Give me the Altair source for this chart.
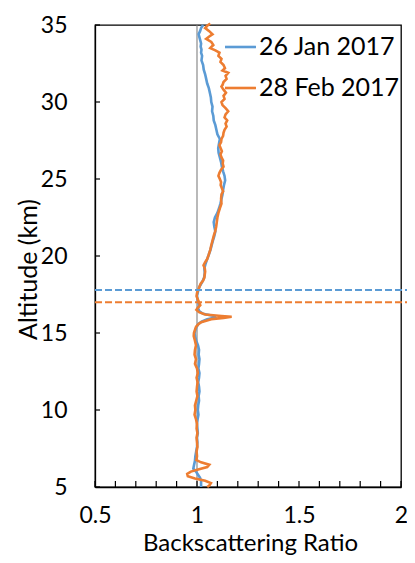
import altair as alt
import pandas as pd

# ---- data ----
series_names = ["26 Jan 2017", "28 Feb 2017"]
series_colors = ["#5B9BD5", "#ED7D31"]

jan_alt = [35.0, 34.8, 34.6, 34.4, 34.2, 34.0, 33.8, 33.6, 33.4, 33.2, 33.0, 32.7, 32.4, 32.1,
           31.8, 31.5, 31.2, 30.9, 30.6, 30.3, 30.0, 29.7, 29.4, 29.1, 28.8, 28.5, 28.2, 27.9,
           27.6, 27.3, 27.0, 26.7, 26.4, 26.1, 25.8, 25.5, 25.2, 24.9, 24.6, 24.3, 24.0, 23.7,
           23.4, 23.1, 22.8, 22.5, 22.2, 21.9, 21.6, 21.3, 21.0, 20.7, 20.4, 20.1, 19.8, 19.5,
           19.2, 18.9, 18.6, 18.3, 18.0, 17.7, 17.4, 17.1, 16.8, 16.6, 16.4, 16.25, 16.1, 16.0,
           15.9, 15.75, 15.6, 15.4, 15.2, 15.0, 14.8, 14.5, 14.2, 13.9, 13.6, 13.3, 13.0, 12.7,
           12.4, 12.1, 11.8, 11.5, 11.2, 10.9, 10.6, 10.3, 10.0, 9.7, 9.4, 9.1, 8.8, 8.5, 8.2,
           7.9, 7.6, 7.3, 7.0, 6.7, 6.4, 6.2, 6.0, 5.8, 5.6, 5.4, 5.2, 5.0]
jan_ratio = [1.03, 1.02, 1.015, 1.008, 1.012, 1.016, 1.02, 1.018, 1.022, 1.02, 1.025, 1.022, 1.03, 1.033,
             1.04, 1.045, 1.05, 1.058, 1.063, 1.068, 1.07, 1.076, 1.074, 1.08, 1.082, 1.09, 1.095, 1.10,
             1.112, 1.108, 1.104, 1.106, 1.112, 1.118, 1.122, 1.128, 1.135, 1.138, 1.132, 1.128, 1.125, 1.12,
             1.115, 1.108, 1.10, 1.088, 1.082, 1.085, 1.09, 1.085, 1.078, 1.072, 1.066, 1.058, 1.05, 1.042,
             1.036, 1.038, 1.035, 1.025, 1.012, 1.005, 1.0, 1.004, 1.01, 1.005, 1.012, 1.03, 1.085, 1.09,
             1.05, 1.025, 1.008, 0.998, 0.992, 0.988, 0.99, 0.996, 1.005, 1.01, 1.008, 1.012, 1.01, 1.007,
             1.012, 1.01, 1.006, 1.01, 1.012, 1.008, 1.01, 1.006, 1.004, 1.007, 1.003, 1.0, 1.002, 1.004, 1.0,
             1.002, 1.0, 0.996, 0.992, 0.99, 0.985, 0.982, 0.995, 1.005, 1.015, 1.02, 1.02, 1.02]

feb_alt = [35.1, 34.95, 34.8, 34.6, 34.4, 34.25, 34.1, 33.9, 33.7, 33.5, 33.35, 33.2, 33.0, 32.8,
           32.6, 32.4, 32.2, 32.05, 31.9, 31.7, 31.5, 31.3, 31.1, 31.0, 30.8, 30.6, 30.4, 30.2,
           30.0, 29.8, 29.6, 29.4, 29.2, 29.0, 28.8, 28.6, 28.4, 28.2, 28.0, 27.8, 27.6, 27.4,
           27.2, 27.0, 26.8, 26.6, 26.4, 26.2, 26.0, 25.8, 25.6, 25.4, 25.2, 25.0, 24.8, 24.6,
           24.4, 24.2, 24.0, 23.7, 23.4, 23.1, 22.8, 22.5, 22.2, 21.9, 21.6, 21.3, 21.0, 20.7,
           20.4, 20.1, 19.8, 19.6, 19.4, 19.2, 19.0, 18.8, 18.6, 18.4, 18.2, 18.0, 17.8, 17.6,
           17.4, 17.2, 17.0, 16.8, 16.65, 16.5, 16.35, 16.2, 16.1, 16.05, 15.98, 15.9, 15.8, 15.7,
           15.55, 15.4, 15.2, 15.0, 14.8, 14.5, 14.2, 13.9, 13.6, 13.3, 13.0, 12.7, 12.4, 12.1,
           11.8, 11.5, 11.2, 10.9, 10.6, 10.3, 10.0, 9.7, 9.4, 9.1, 8.8, 8.5, 8.2, 7.9, 7.6, 7.3,
           7.0, 6.75, 6.6, 6.45, 6.3, 6.15, 6.0, 5.85, 5.7, 5.55, 5.4, 5.25, 5.1, 5.0]
feb_ratio = [1.065, 1.05, 1.04, 1.06, 1.076, 1.06, 1.045, 1.07, 1.08, 1.065, 1.09, 1.11, 1.105, 1.12,
             1.115, 1.13, 1.137, 1.125, 1.153, 1.14, 1.145, 1.13, 1.125, 1.12, 1.13, 1.142, 1.13, 1.135,
             1.12, 1.125, 1.14, 1.153, 1.14, 1.135, 1.148, 1.14, 1.145, 1.135, 1.13, 1.128, 1.12, 1.118,
             1.11, 1.116, 1.122, 1.115, 1.12, 1.128, 1.126, 1.13, 1.118, 1.11, 1.105, 1.112, 1.118, 1.116,
             1.122, 1.128, 1.12, 1.118, 1.12, 1.112, 1.105, 1.10, 1.097, 1.094, 1.089, 1.082, 1.076, 1.07,
             1.065, 1.058, 1.05, 1.04, 1.032, 1.038, 1.04, 1.038, 1.036, 1.03, 1.018, 1.012, 1.006, 1.0,
             0.998, 1.003, 1.01, 1.016, 1.005, 0.997, 1.01, 1.04, 1.12, 1.17, 1.13, 1.07, 1.045, 1.02,
             1.005, 0.995, 0.99, 0.985, 0.984, 0.99, 0.995, 0.99, 0.988, 0.995, 0.99, 1.0, 1.004, 0.998,
             1.003, 1.0, 0.998, 1.002, 0.996, 0.99, 0.992, 0.988, 0.995, 1.0, 0.998, 1.002, 0.998, 1.0, 1.002, 0.998,
             1.0, 0.997, 1.02, 1.06, 1.05, 1.01, 0.97, 0.952, 0.955, 0.99, 1.04, 1.068, 1.06, 1.05]

tropopause_alt = [17.8, 17.0]
reference_ratio = [1.0]
x_tick_values = [0.5, 0.6, 0.7, 0.8, 0.9, 1.0, 1.1, 1.2, 1.3, 1.4, 1.5, 1.6, 1.7, 1.8, 1.9, 2.0]
x_label_values = [0.5, 1, 1.5, 2]
y_tick_values = [5, 10, 15, 20, 25, 30, 35]

# ---- tables ----
rows = []
for i, (a, r) in enumerate(zip(jan_alt, jan_ratio)):
    rows.append({"alt": a, "ratio": r, "series": series_names[0], "idx": i})
for i, (a, r) in enumerate(zip(feb_alt, feb_ratio)):
    rows.append({"alt": a, "ratio": r, "series": series_names[1], "idx": i})
profiles = pd.DataFrame(rows)

tropo = pd.DataFrame({"alt": tropopause_alt, "series": series_names})
ref = pd.DataFrame({"ratio": reference_ratio})
xticks = pd.DataFrame({"v": x_tick_values})
yticks = pd.DataFrame({"v": y_tick_values})

FONT = "Lato"
FS = 23
TFS = 24
W, H = 306, 462

x_scale = alt.Scale(domain=[0.5, 2], nice=False, zero=False)
y_scale = alt.Scale(domain=[5, 35], nice=False, zero=False)
color_scale = alt.Scale(domain=series_names, range=series_colors)

x_axis = alt.Axis(values=x_label_values, format="~g", ticks=False, tickSize=0, labelPadding=17,
                  labelFontSize=FS, labelFont=FONT, labelColor="black", labelFlush=False,
                  grid=False, domainColor="black", domainWidth=1.3,
                  title="Backscattering Ratio", titleFont=FONT, titleFontSize=TFS,
                  titleFontWeight="normal", titleColor="black", titleX=155, titleY=63,
                  titleBaseline="alphabetic")
y_axis = alt.Axis(values=y_tick_values, format="d", ticks=False, tickSize=0, labelPadding=28,
                  labelFontSize=FS, labelFont=FONT, labelColor="black", labelFlush=False,
                  grid=False, domainColor="black", domainWidth=1.3,
                  title="Altitude (km)", titleFont=FONT, titleFontSize=25,
                  titleFontWeight="normal", titleColor="black", titleAngle=270,
                  titleX=-67, titleY=244, titleBaseline="middle", titleAlign="center")

lines = alt.Chart(profiles).mark_line(strokeWidth=2.6).encode(
    x=alt.X("ratio:Q", scale=x_scale, axis=x_axis),
    y=alt.Y("alt:Q", scale=y_scale, axis=y_axis),
    color=alt.Color("series:N", scale=color_scale, legend=None),
    order=alt.Order("idx:Q"),
    detail="series:N",
)

ref_line = alt.Chart(ref).mark_rule(color="#808080", strokeWidth=1.1).encode(
    x=alt.X("ratio:Q", scale=x_scale),
    y=alt.value(0), y2=alt.value(H),
)

dashes = alt.Chart(tropo).mark_rule(strokeDash=[7, 3], strokeWidth=2).encode(
    y=alt.Y("alt:Q", scale=y_scale),
    x=alt.value(0), x2=alt.value(W + 6),
    color=alt.Color("series:N", scale=color_scale, legend=None),
)

xtick_marks = alt.Chart(xticks).mark_rule(color="black", strokeWidth=1.2).encode(
    x=alt.X("v:Q", scale=x_scale), y=alt.value(H), y2=alt.value(H - 6),
)
ytick_marks = alt.Chart(yticks).mark_rule(color="black", strokeWidth=1.2).encode(
    y=alt.Y("v:Q", scale=y_scale), x=alt.value(0), x2=alt.value(5),
)

legend_layers = []
for name, col, ypix in zip(series_names, series_colors, [22, 63]):
    one = pd.DataFrame({"series": [name]})
    legend_layers.append(
        alt.Chart(one).mark_rule(strokeWidth=2.6, color=col).encode(
            y=alt.value(ypix), x=alt.value(130), x2=alt.value(161))
    )
    legend_layers.append(
        alt.Chart(one).mark_text(align="left", baseline="middle", font=FONT,
                                 fontSize=25, color="black").encode(
            y=alt.value(ypix), x=alt.value(164), text="series:N")
    )

chart = alt.layer(
    ref_line, lines, dashes, xtick_marks, ytick_marks, *legend_layers
).properties(
    width=W, height=H,
    autosize=alt.AutoSizeParams(type="none"),
    padding={"left": 87, "top": 17, "right": 6, "bottom": 68},
).configure_view(stroke="black", strokeWidth=1.3)

chart.save("out.html", embed_options={"renderer": "svg", "actions": False})
